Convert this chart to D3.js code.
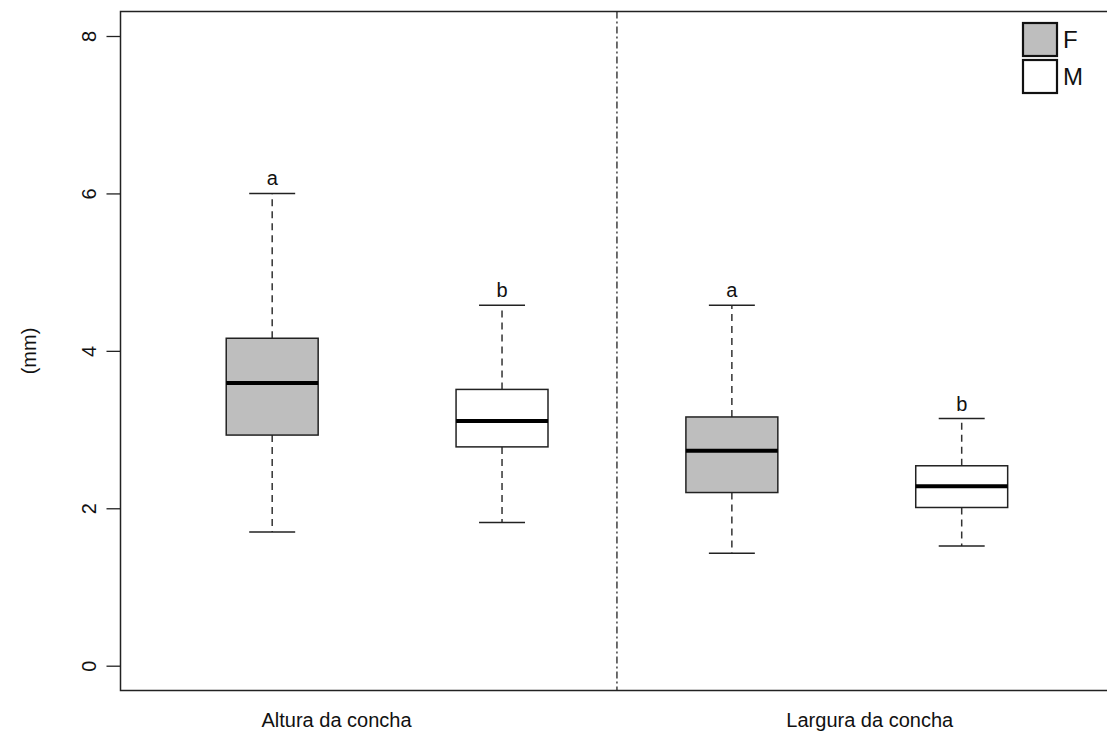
<!DOCTYPE html>
<meta charset="utf-8">
<title>Boxplot concha</title>
<script src="https://d3js.org/d3.v7.min.js"></script>
<style>
  body { margin: 0; background: #fff; }
  text { font-family: "Liberation Sans", Arial, sans-serif; fill: #111; }
</style>
<body>
<svg width="1107" height="733"></svg>
<script>
  // values
  var groups = ["F", "M", "F", "M"];
  var letters = ["a", "b", "a", "b"];
  var whiskerLow = [1.70, 1.82, 1.43, 1.52];
  var q1 = [2.93, 2.78, 2.20, 2.01];
  var median = [3.59, 3.11, 2.73, 2.28];
  var q3 = [4.16, 3.51, 3.16, 2.54];
  var whiskerHigh = [6.00, 4.58, 4.58, 3.14];
  var categories = ["Altura da concha", "Largura da concha"];
  var yTicks = [0, 2, 4, 6, 8];
  var legendKeys = ["F", "M"];

  var fillFor = { F: "#bebebe", M: "#ffffff" };

  var svg = d3.select("svg");

  var x = d3.scaleLinear().domain([0.34, 4.63]).range([120.5, 1106.5]);
  var y = d3.scaleLinear().domain([0, 8]).range([665.7, 36]);

  var boxW = x(1.4) - x(1), capW = x(1.2) - x(1);

  // frame (right side runs off the image edge)
  svg.append("rect")
    .attr("x", 120.5).attr("y", 11.5)
    .attr("width", 1000).attr("height", 679)
    .attr("fill", "none").attr("stroke", "#222").attr("stroke-width", 1.5);

  // y axis
  var yAxis = svg.append("g")
    .attr("transform", "translate(120.5,0)")
    .call(d3.axisLeft(y).tickValues(yTicks).tickSize(14));
  yAxis.select(".domain").remove();
  yAxis.selectAll(".tick line").attr("stroke", "#222").attr("stroke-width", 1.3);
  yAxis.selectAll(".tick text")
    .attr("font-size", 20)
    .attr("fill", "#111")
    .attr("text-anchor", "middle")
    .attr("x", 0).attr("y", 0)
    .attr("dy", "0.35em")
    .attr("transform", "translate(-32,0) rotate(-90)");

  svg.append("text")
    .attr("transform", "translate(36,351) rotate(-90)")
    .attr("text-anchor", "middle")
    .attr("font-size", 20)
    .text("(mm)");

  // divider between the two measurements
  svg.append("line")
    .attr("x1", x(2.5)).attr("x2", x(2.5))
    .attr("y1", 11.5).attr("y2", 690.5)
    .attr("stroke", "#222").attr("stroke-width", 1.3)
    .attr("stroke-dasharray", "7,3,2,3");

  var idx = d3.range(groups.length);
  var g = svg.append("g").selectAll("g").data(idx).enter().append("g");

  // whiskers
  g.append("line")
    .attr("x1", function (i) { return x(i + 1); })
    .attr("x2", function (i) { return x(i + 1); })
    .attr("y1", function (i) { return y(q3[i]); })
    .attr("y2", function (i) { return y(whiskerHigh[i]); })
    .attr("stroke", "#333").attr("stroke-width", 1.5).attr("stroke-dasharray", "7,5");
  g.append("line")
    .attr("x1", function (i) { return x(i + 1); })
    .attr("x2", function (i) { return x(i + 1); })
    .attr("y1", function (i) { return y(q1[i]); })
    .attr("y2", function (i) { return y(whiskerLow[i]); })
    .attr("stroke", "#333").attr("stroke-width", 1.5).attr("stroke-dasharray", "7,5");

  // caps
  [whiskerHigh, whiskerLow].forEach(function (arr) {
    g.append("line")
      .attr("x1", function (i) { return x(i + 1) - capW / 2; })
      .attr("x2", function (i) { return x(i + 1) + capW / 2; })
      .attr("y1", function (i) { return y(arr[i]); })
      .attr("y2", function (i) { return y(arr[i]); })
      .attr("stroke", "#222").attr("stroke-width", 1.5);
  });

  // boxes
  g.append("rect")
    .attr("x", function (i) { return x(i + 1) - boxW / 2; })
    .attr("y", function (i) { return y(q3[i]); })
    .attr("width", boxW)
    .attr("height", function (i) { return y(q1[i]) - y(q3[i]); })
    .attr("fill", function (i) { return fillFor[groups[i]]; })
    .attr("stroke", "#222").attr("stroke-width", 1.5);

  // medians
  g.append("line")
    .attr("x1", function (i) { return x(i + 1) - boxW / 2; })
    .attr("x2", function (i) { return x(i + 1) + boxW / 2; })
    .attr("y1", function (i) { return y(median[i]); })
    .attr("y2", function (i) { return y(median[i]); })
    .attr("stroke", "#000").attr("stroke-width", 4);

  // letters
  g.append("text")
    .attr("x", function (i) { return x(i + 1); })
    .attr("y", function (i) { return y(whiskerHigh[i]) - 8; })
    .attr("text-anchor", "middle")
    .attr("font-size", 20)
    .text(function (i) { return letters[i]; });

  // category labels
  var catPos = [1.28, 3.6];
  svg.selectAll(".cat").data(categories).enter().append("text")
    .attr("class", "cat")
    .attr("x", function (d, i) { return x(catPos[i]); })
    .attr("y", 727)
    .attr("text-anchor", "middle")
    .attr("font-size", 20)
    .text(function (d) { return d; });

  // legend
  var leg = svg.append("g").selectAll("g").data(legendKeys).enter().append("g")
    .attr("transform", function (d, i) { return "translate(1023," + (23 + i * 37) + ")"; });
  leg.append("rect")
    .attr("width", 34).attr("height", 33)
    .attr("fill", function (d) { return fillFor[d]; })
    .attr("stroke", "#111").attr("stroke-width", 2.2);
  leg.append("text")
    .attr("x", 40).attr("y", 25)
    .attr("font-size", 24)
    .text(function (d) { return d; });
</script>
</body>
